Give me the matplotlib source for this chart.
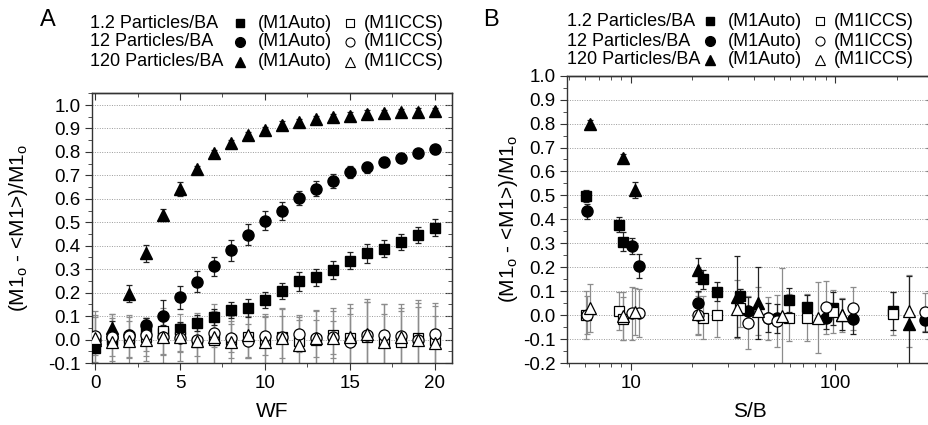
import matplotlib
matplotlib.use('Agg')
import matplotlib.pyplot as plt
from matplotlib.lines import Line2D
from matplotlib.ticker import MultipleLocator, LogLocator, NullFormatter, FixedLocator
import numpy as np

plt.rcParams['font.family'] = ['Liberation Sans', 'DejaVu Sans']
plt.rcParams['mathtext.fontset'] = 'custom'
plt.rcParams['mathtext.rm'] = 'Liberation Sans'

# ---- panel A data (WF) ----
wf = list(range(21))
a_sq = [-0.034, 0.0, 0.01, 0.04, 0.03, 0.043, 0.071, 0.097, 0.125, 0.135, 0.168,
        0.206, 0.248, 0.265, 0.297, 0.337, 0.367, 0.388, 0.417, 0.447, 0.477]
a_ci = [0.0, 0.01, 0.02, 0.06, 0.10, 0.18, 0.246, 0.313, 0.381, 0.447, 0.506,
        0.548, 0.602, 0.644, 0.677, 0.713, 0.734, 0.757, 0.775, 0.794, 0.811]
a_tr = [0.0, 0.05, 0.196, 0.367, 0.53, 0.64, 0.727, 0.794, 0.836, 0.872, 0.893,
        0.915, 0.926, 0.939, 0.947, 0.955, 0.962, 0.964, 0.969, 0.972, 0.974]
a_sq_err = [0.02, 0.02, 0.02, 0.03, 0.03, 0.03, 0.035, 0.035, 0.035, 0.04, 0.035,
            0.035, 0.04, 0.035, 0.04, 0.035, 0.04, 0.035, 0.035, 0.035, 0.035]
a_ci_err = [0.02, 0.02, 0.02, 0.03, 0.07, 0.05, 0.045, 0.04, 0.045, 0.045, 0.04,
            0.04, 0.03, 0.03, 0.03, 0.025, 0.025, 0.02, 0.02, 0.02, 0.02]
a_tr_err = [0.02, 0.03, 0.035, 0.035, 0.025, 0.03, 0.015, 0.015, 0.015, 0.015, 0.015,
            0.015, 0.015, 0.015, 0.015, 0.015, 0.015, 0.015, 0.015, 0.015, 0.015]

a_osq = [0.0, 0.01, 0.0, 0.01, 0.035, 0.01, -0.01, 0.0, 0.0, 0.01, 0.0,
         0.01, -0.005, 0.0, 0.02, 0.005, 0.01, -0.01, -0.01, 0.005, 0.0]
a_oci = [0.015, 0.01, 0.015, 0.02, 0.01, 0.005, 0.0, 0.03, 0.005, -0.005, 0.015,
         0.01, 0.025, 0.005, 0.01, -0.01, 0.02, 0.02, 0.015, 0.0, 0.025]
a_otr = [0.005, -0.01, -0.005, 0.0, 0.01, 0.01, -0.005, 0.01, -0.01, 0.02, -0.01,
         0.005, -0.025, 0.005, 0.005, 0.01, 0.025, -0.01, 0.01, 0.0, -0.015]
a_osq_err = [0.12, 0.1, 0.08, 0.08, 0.1, 0.06, 0.1, 0.12, 0.08, 0.09, 0.1,
             0.12, 0.1, 0.12, 0.1, 0.13, 0.15, 0.12, 0.13, 0.15, 0.1]
a_oci_err = [0.08, 0.08, 0.09, 0.07, 0.07, 0.06, 0.07, 0.06, 0.06, 0.07, 0.08,
             0.09, 0.08, 0.08, 0.07, 0.12, 0.14, 0.13, 0.12, 0.14, 0.13]
a_otr_err = [0.1, 0.12, 0.1, 0.09, 0.11, 0.1, 0.12, 0.14, 0.11, 0.1, 0.12,
             0.13, 0.11, 0.12, 0.13, 0.14, 0.15, 0.16, 0.14, 0.17, 0.16]

# ---- panel B data (S/B) ----
b_sq_x = [6.04, 8.77, 9.18, 22.6, 26.4, 34.3, 59.2, 72.6, 98, 193]
b_sq = [0.496, 0.378, 0.306, 0.15, 0.097, 0.08, 0.065, 0.032, 0.028, 0.018]
b_sq_err = [0.025, 0.03, 0.04, 0.04, 0.04, 0.03, 0.05, 0.05, 0.07, 0.08]
b_osq = [0.0, 0.017, -0.015, -0.01, 0.0, 0.03, -0.01, -0.01, 0.015, 0.005]
b_osq_err = [0.1, 0.08, 0.09, 0.09, 0.09, 0.08, 0.1, 0.1, 0.09, 0.09]

b_ci_x = [6.1, 10.2, 11.0, 21.3, 37.7, 46.8, 52.2, 90.3, 123, 275]
b_ci = [0.433, 0.289, 0.205, 0.049, 0.017, -0.01, -0.014, -0.01, -0.017, -0.021]
b_ci_err = [0.03, 0.035, 0.05, 0.05, 0.06, 0.06, 0.06, 0.05, 0.06, 0.05]
b_oci = [0.0, 0.007, 0.01, 0.0, -0.032, -0.014, -0.024, 0.032, 0.028, 0.014]
b_oci_err = [0.08, 0.11, 0.1, 0.08, 0.11, 0.09, 0.11, 0.11, 0.09, 0.08]

b_tr_x = [6.33, 9.15, 10.5, 21.3, 33, 42.2, 108, 229]
b_tr = [0.80, 0.655, 0.523, 0.187, 0.077, 0.05, 0.002, -0.038]
b_tr_err = [0.015, 0.02, 0.035, 0.05, 0.17, 0.15, 0.065, 0.2]
b_otr_x = [6.33, 9.15, 10.5, 21.3, 33, 42.2, 54.8, 82.8, 108, 229]
b_otr = [0.028, -0.005, 0.015, 0.005, 0.025, 0.018, -0.004, -0.01, 0.0, 0.018]
b_otr_err = [0.1, 0.1, 0.1, 0.09, 0.12, 0.1, 0.2, 0.15, 0.07, 0.15]

markers = ['s', 'o', '^']
msizes = [7, 8, 8.5]
ecol_f = '#222222'
ecol_o = '#8c8c8c'

W, H = 929, 425
fig = plt.figure(figsize=(W / 100, H / 100), dpi=100)


def px(x0, y0, x1, y1):
    return [x0 / W, 1 - y1 / H, (x1 - x0) / W, (y1 - y0) / H]


axA = fig.add_axes(px(91.7, 93.3, 451.7, 363))
axB = fig.add_axes(px(566.7, 75.7, 932.5, 363))

filledA = [(a_sq, a_sq_err), (a_ci, a_ci_err), (a_tr, a_tr_err)]
openA = [(a_osq, a_osq_err), (a_oci, a_oci_err), (a_otr, a_otr_err)]
for (vals, err), m, ms in zip(openA, markers, msizes):
    axA.errorbar(wf, vals, yerr=err, fmt='none', ecolor=ecol_o, elinewidth=0.9,
                 capsize=2.5, capthick=0.9, zorder=2)
for (vals, err), m, ms in zip(filledA, markers, msizes):
    axA.errorbar(wf, vals, yerr=err, fmt=m, color='black', ms=ms, ecolor=ecol_f,
                 elinewidth=0.9, capsize=2.5, capthick=0.9, zorder=3)
for (vals, err), m, ms in zip(openA, markers, msizes):
    axA.plot(wf, vals, m, ms=ms, mfc='white', mec='black', mew=0.9, zorder=4)

filledB = [(b_sq_x, b_sq, b_sq_err), (b_ci_x, b_ci, b_ci_err), (b_tr_x, b_tr, b_tr_err)]
openB = [(b_sq_x, b_osq, b_osq_err), (b_ci_x, b_oci, b_oci_err), (b_otr_x, b_otr, b_otr_err)]
for (xs, vals, err), m, ms in zip(openB, markers, msizes):
    axB.errorbar(xs, vals, yerr=err, fmt='none', ecolor=ecol_o, elinewidth=0.9,
                 capsize=2.5, capthick=0.9, zorder=2)
for (xs, vals, err), m, ms in zip(filledB, markers, msizes):
    axB.errorbar(xs, vals, yerr=err, fmt=m, color='black', ms=ms, ecolor=ecol_f,
                 elinewidth=0.9, capsize=2.5, capthick=0.9, zorder=3)
for (xs, vals, err), m, ms in zip(openB, markers, msizes):
    axB.plot(xs, vals, m, ms=ms, mfc='white', mec='black', mew=0.9, zorder=4)

ylab = r'(M1$_\mathregular{o}$ - <M1>)/M1$_\mathregular{o}$'
fmt1 = plt.FuncFormatter(lambda v, p: f'{v:.1f}')

# axes A styling
axA.set_xlim(-0.2, 21)
axA.set_ylim(-0.1, 1.05)
axA.xaxis.set_major_locator(MultipleLocator(5))
axA.xaxis.set_minor_locator(MultipleLocator(2.5))
axA.set_yticks(np.round(np.arange(-0.1, 1.01, 0.1), 2))
axA.yaxis.set_minor_locator(MultipleLocator(0.05))
axA.yaxis.set_major_formatter(fmt1)
for yv in np.arange(0.0, 1.01, 0.1):
    axA.axhline(yv, color='#9a9a9a', lw=0.7, ls=(0, (1, 1.5)), zorder=1)
axA.set_xlabel('WF', fontsize=15)
axA.xaxis.set_label_coords(0.5, -0.145)
axA.set_ylabel(ylab, fontsize=15)
axA.yaxis.set_label_coords(-0.172, 0.5)

# axes B styling
axB.set_xscale('log')
axB.set_xlim(4.86, 300)
axB.set_ylim(-0.2, 1.0)
axB.xaxis.set_major_locator(FixedLocator([10, 100]))
axB.xaxis.set_major_formatter(plt.FuncFormatter(lambda v, p: f'{v:g}'))
axB.xaxis.set_minor_locator(LogLocator(base=10, subs=np.arange(2, 10)))
axB.xaxis.set_minor_formatter(NullFormatter())
axB.set_yticks(np.round(np.arange(-0.2, 1.01, 0.1), 2))
axB.yaxis.set_minor_locator(MultipleLocator(0.05))
axB.yaxis.set_major_formatter(fmt1)
for yv in np.arange(-0.1, 0.91, 0.1):
    axB.axhline(yv, color='#9a9a9a', lw=0.7, ls=(0, (1, 1.5)), zorder=1)
axB.set_xlabel('S/B', fontsize=15)
axB.xaxis.set_label_coords(0.5, -0.136)
axB.set_ylabel(ylab, fontsize=15)
axB.yaxis.set_label_coords(-0.128, 0.5)

for ax in (axA, axB):
    for s in ax.spines.values():
        s.set_linewidth(1.0)
        s.set_color('#333333')
    ax.tick_params(which='both', labelsize=13.5, color='#333333', top=False, right=False)
    ax.tick_params(which='major', direction='out', length=5)
    ax.tick_params(which='minor', direction='out', length=3)
    ax.tick_params(axis='x', pad=4)
    ax.tick_params(axis='y', pad=3)

    # top/right ticks point inward
    sec_x = ax.secondary_xaxis('top')
    sec_x.set_xticks(ax.get_xticks())
    sec_x.set_xticklabels([])
    sec_x.xaxis.set_minor_locator(ax.xaxis.get_minor_locator())
    sec_x.tick_params(which='major', direction='in', length=5, color='#333333')
    sec_x.tick_params(which='minor', direction='in', length=3, color='#333333')
    sec_x.spines['top'].set_linewidth(1.0)
    sec_x.spines['top'].set_color('#333333')
    sec_y = ax.secondary_yaxis('right')
    sec_y.set_yticks(ax.get_yticks())
    sec_y.set_yticklabels([])
    sec_y.yaxis.set_minor_locator(ax.yaxis.get_minor_locator())
    sec_y.tick_params(which='major', direction='in', length=5, color='#333333')
    sec_y.tick_params(which='minor', direction='in', length=3, color='#333333')

axA.set_xlim(-0.2, 21)
axB.set_xlim(4.86, 300)

# legends drawn as figure text
row_labels = ['1.2 Particles/BA', '12 Particles/BA', '120 Particles/BA']
leg_ms = [6, 7, 7.5]


def legend_block(x_lab, x_f, x_auto, x_o, x_iccs, rows_y):
    for lab, m, ms, yy in zip(row_labels, markers, leg_ms, rows_y):
        fy = 1 - yy / H
        fig.text(x_lab / W, fy, lab, fontsize=13, ha='left', va='center')
        fig.add_artist(Line2D([x_f / W], [fy], marker=m, ms=ms, color='black', ls='none'))
        fig.text(x_auto / W, fy, '(M1Auto)', fontsize=13, ha='left', va='center')
        fig.add_artist(Line2D([x_o / W], [fy], marker=m, ms=ms - 0.5, mfc='white',
                              mec='black', mew=0.8, ls='none'))
        fig.text(x_iccs / W, fy, '(M1ICCS)', fontsize=13, ha='left', va='center')


legend_block(90, 240, 258, 350, 364, [23, 42, 62])
legend_block(567, 710, 728, 820, 834, [21, 41, 60])

fig.text(40 / W, 1 - 20 / H, 'A', fontsize=17, ha='left', va='center')
fig.text(483 / W, 1 - 20 / H, 'B', fontsize=17, ha='left', va='center')

fig.savefig('out.png', dpi=100)
